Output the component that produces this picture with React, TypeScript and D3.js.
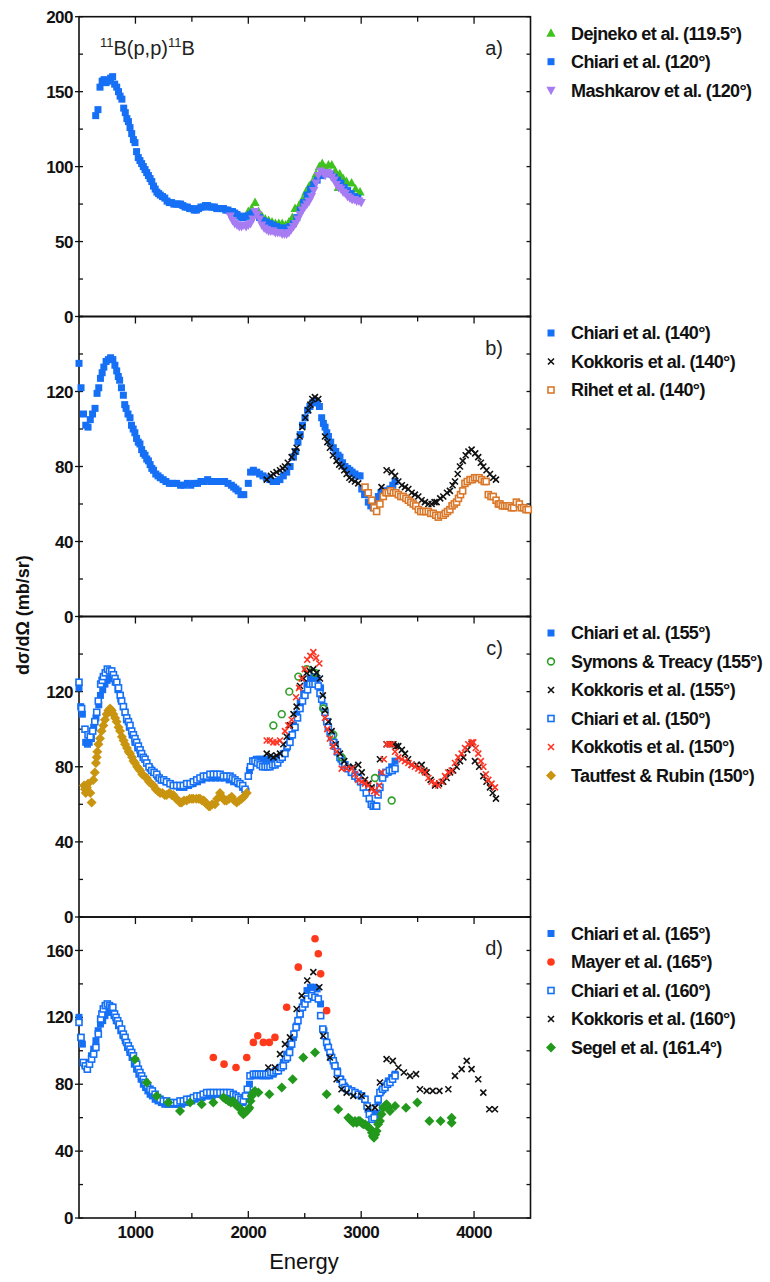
import React from 'react';
import * as d3 from 'd3';

// energy (keV) / cross section (mb/sr) pairs

// panel a
const dejneko1195: [number, number][] = [[2000,70],[2030,72],[2060,76],[2090,70],[2120,67],[2150,65],[2180,64],[2210,63],[2240,62],[2270,62],[2300,62],[2330,61],[2360,63],[2390,66],[2414,72],[2450,74],[2480,78],[2510,83],[2540,87],[2570,90],[2600,95],[2630,100],[2655,102],[2680,99],[2710,101],[2740,101],[2770,97],[2797,86],[2810,95],[2840,92],[2870,90],[2915,89],[2950,85],[2990,83]];
const chiari120: [number, number][] = [[648,134],[668,138],[686,153],[705,157],[722,158],[740,156],[760,157],[780,159],[798,160],[816,155],[834,153],[850,150],[864,147],[880,145],[896,139],[910,136],[924,132],[938,130],[952,126],[967,122],[982,118],[996,116],[1010,110],[1025,106],[1040,104],[1055,102],[1070,100],[1085,98],[1100,96],[1115,94],[1130,92],[1145,90],[1160,87],[1175,85],[1190,83],[1205,82],[1220,81],[1240,80],[1260,79],[1280,77],[1300,76],[1320,76],[1340,75],[1360,75],[1380,75],[1400,75],[1420,74],[1440,73],[1460,73],[1480,72],[1500,72],[1520,71],[1540,71],[1560,72],[1580,73],[1600,73],[1620,74],[1640,74],[1660,73],[1680,73],[1700,73],[1720,72],[1740,72],[1760,72],[1780,72],[1800,71],[1820,71],[1840,70],[1860,70],[1880,69],[1900,68],[1920,67],[1940,66],[1960,66],[1980,67],[2000,67],[2020,68],[2040,69],[2060,70],[2080,68],[2100,66],[2130,64],[2160,63],[2190,62],[2220,61],[2250,60],[2280,59],[2310,59],[2340,59],[2370,60],[2400,62],[2430,66],[2460,71],[2490,76],[2520,81],[2550,85],[2580,88],[2610,91],[2640,94],[2670,96],[2700,96],[2730,95],[2760,93],[2790,91],[2820,89],[2850,86],[2880,84],[2910,82],[2940,80],[2970,79]];
const mashkarov120: [number, number][] = [[1840,67],[1860,64],[1880,62],[1900,61],[1920,60],[1940,60],[1960,61],[1980,60],[2000,61],[2020,62],[2040,65],[2060,70],[2080,68],[2100,65],[2120,61],[2140,59],[2160,58],[2180,57],[2200,57],[2220,57],[2240,56],[2260,56],[2280,56],[2300,55],[2320,55],[2340,55],[2360,56],[2380,58],[2400,60],[2420,62],[2440,65],[2460,68],[2480,71],[2500,73],[2520,75],[2540,77],[2560,80],[2580,84],[2600,89],[2620,94],[2640,97],[2660,96],[2680,94],[2700,96],[2720,95],[2740,93],[2760,91],[2780,88],[2800,86],[2820,85],[2840,83],[2860,82],[2880,80],[2900,79],[2920,78],[2940,78],[2960,77],[2980,77],[3000,76]];

// panel b
const chiari140: [number, number][] = [[500,135],[518,122],[540,108],[560,102],[580,101],[600,105],[620,108],[642,111],[660,119],[675,122],[690,127],[705,130],[720,133],[740,136],[760,137],[780,138],[800,137],[818,134],[834,131],[848,128],[860,126],[876,122],[893,118],[905,113],[917,111],[934,108],[952,106],[965,102],[980,100],[995,98],[1010,95],[1025,93],[1040,92],[1055,89],[1070,87],[1085,86],[1100,84],[1115,83],[1130,81],[1145,79],[1160,78],[1180,76],[1200,75],[1220,74],[1245,73],[1270,72],[1300,71],[1330,71],[1365,71],[1400,70],[1430,70],[1460,71],[1490,70],[1520,71],[1550,71],[1580,72],[1610,72],[1640,73],[1670,72],[1700,72],[1730,72],[1760,72],[1790,72],[1820,71],[1850,70],[1870,69],[1890,68],[1910,67],[1935,65],[1960,65],[2000,71],[2020,77],[2045,78],[2075,77],[2100,76],[2130,75],[2160,74],[2190,73],[2220,72],[2250,72],[2280,73],[2310,75],[2340,77],[2370,80],[2400,85],[2420,88],[2440,93],[2460,97],[2480,102],[2502,106],[2525,110],[2546,112],[2570,114],[2591,115],[2610,114],[2630,112],[2650,106],[2665,103],[2680,101],[2695,98],[2710,96],[2730,93],[2753,90],[2775,88],[2795,86],[2812,85],[2835,82],[2856,80],[2880,79],[2900,78],[2920,77],[2945,76],[2970,75],[2990,75],[3005,68],[3030,65],[3063,61],[3085,59],[3107,58],[3130,62],[3152,64],[3175,66],[3197,67],[3225,67],[3255,68],[3280,70],[3300,72]];
const kokkoris140: [number, number][] = [[2163,73],[2200,75],[2222,76],[2250,77],[2281,78],[2305,79],[2325,80],[2350,82],[2384,85],[2410,88],[2428,90],[2455,96],[2478,101],[2505,106],[2531,110],[2550,113],[2567,116],[2590,117],[2620,116],[2679,96],[2700,93],[2723,90],[2750,86],[2782,83],[2805,81],[2826,80],[2850,78],[2871,76],[2895,74],[2915,73],[2945,72],[2974,71],[3180,69],[3225,78],[3270,77],[3300,75],[3329,72],[3360,70],[3388,69],[3418,68],[3447,66],[3476,65],[3506,64],[3535,62],[3565,61],[3595,60],[3624,60],[3650,61],[3668,61],[3700,63],[3727,64],[3760,66],[3786,67],[3810,70],[3831,72],[3855,76],[3875,80],[3900,83],[3926,86],[3950,88],[3978,89],[4010,87],[4037,85],[4060,82],[4082,80],[4110,78],[4141,76],[4170,74],[4194,73]];
const rihet140: [number, number][] = [[3034,69],[3063,66],[3093,62],[3115,58],[3137,56],[3166,60],[3196,64],[3220,66],[3240,66],[3262,67],[3285,66],[3307,66],[3329,65],[3351,64],[3373,64],[3396,63],[3418,62],[3440,61],[3462,60],[3484,59],[3506,57],[3528,56],[3550,56],[3572,56],[3595,56],[3617,55],[3639,55],[3661,54],[3683,53],[3705,54],[3727,54],[3745,55],[3765,56],[3786,57],[3805,59],[3825,60],[3845,61],[3862,63],[3880,65],[3899,67],[3919,71],[3940,72],[3964,73],[3985,73],[4005,74],[4023,74],[4045,74],[4067,73],[4090,72],[4107,72],[4126,65],[4150,64],[4170,64],[4195,62],[4215,60],[4230,60],[4250,59],[4270,59],[4290,59],[4310,59],[4330,58],[4350,58],[4375,61],[4401,60],[4420,58],[4440,58],[4460,57],[4480,57]];

// panel c
const chiari155: [number, number][] = [[500,122],[515,112],[530,108],[559,93],[575,92],[590,93],[610,95],[630,101],[650,106],[675,113],[690,118],[710,121],[730,124],[750,126],[775,127],[800,128],[820,125],[845,121],[870,116],[895,112],[920,105],[945,101],[970,97],[995,93],[1020,90],[1045,87],[1070,85],[1100,82],[1130,79],[1160,77],[1195,75],[1230,73],[1270,72],[1310,71],[1350,70],[1390,69],[1430,69],[1470,70],[1510,71],[1550,72],[1590,73],[1630,74],[1670,74],[1710,74],[1750,74],[1790,74],[1830,73],[1870,72],[1910,71],[1950,69],[1980,67],[2010,78],[2040,83],[2070,84],[2100,84],[2130,84],[2160,84],[2190,84],[2220,84],[2250,84],[2280,85],[2310,87],[2340,90],[2370,96],[2400,102],[2430,108],[2460,114],[2490,119],[2520,124],[2550,127],[2580,128],[2610,127],[2640,122],[2670,112],[2700,104],[2730,98],[2760,93],[2790,88],[2820,84],[2850,81],[2880,79],[2910,77],[2940,76],[2970,74],[3000,72],[3180,76],[3210,76],[3240,77],[3270,80],[3300,83]];
const symons155: [number, number][] = [[2222,102],[2296,108],[2363,120],[2443,128],[2517,132],[2591,130],[2664,111],[2753,97],[2827,85],[3122,74],[3270,62]];
const kokkoris155: [number, number][] = [[2163,87],[2200,86],[2222,85],[2250,86],[2281,87],[2310,92],[2340,96],[2369,102],[2400,108],[2428,112],[2458,123],[2490,127],[2517,130],[2545,131],[2576,132],[2605,130],[2635,127],[2660,118],[2679,110],[2710,104],[2738,99],[2775,92],[2812,87],[2850,83],[2886,80],[2930,80],[2974,81],[3005,77],[3034,73],[3065,71],[3093,69],[3166,84],[3225,92],[3255,92],[3285,92],[3310,91],[3329,91],[3360,89],[3388,87],[3415,84],[3447,81],[3490,81],[3536,81],[3560,78],[3580,77],[3615,73],[3654,70],[3690,71],[3727,72],[3757,74],[3787,77],[3815,78],[3846,80],[3875,83],[3905,85],[3940,89],[3978,92],[4008,83],[4045,80],[4082,75],[4110,72],[4141,69],[4165,66],[4194,63]];
const chiari150: [number, number][] = [[500,125],[523,111],[553,100],[580,97],[600,96],[621,99],[640,104],[657,109],[671,115],[692,124],[705,126],[716,128],[733,130],[751,132],[770,131],[790,131],[805,129],[819,127],[835,125],[850,122],[865,118],[878,115],[893,112],[908,109],[923,106],[938,104],[952,102],[967,99],[982,97],[996,95],[1011,93],[1026,91],[1041,89],[1055,87],[1070,85],[1085,84],[1100,82],[1120,80],[1144,78],[1165,77],[1188,76],[1210,74],[1230,73],[1250,73],[1275,72],[1306,71],[1335,70],[1365,70],[1395,70],[1424,70],[1454,71],[1484,71],[1513,72],[1543,73],[1572,74],[1602,75],[1630,75],[1660,76],[1690,76],[1720,76],[1750,76],[1779,75],[1808,75],[1838,75],[1860,74],[1882,73],[1905,72],[1926,71],[1950,70],[1971,68],[2000,75],[2019,80],[2040,83],[2059,83],[2082,82],[2104,81],[2126,80],[2148,80],[2170,80],[2192,80],[2215,81],[2237,81],[2260,82],[2281,84],[2300,85],[2325,87],[2345,91],[2369,93],[2390,97],[2414,101],[2436,106],[2458,111],[2480,115],[2502,118],[2525,121],[2546,124],[2570,124],[2591,124],[2620,123],[2635,119],[2650,116],[2665,112],[2679,109],[2695,104],[2709,101],[2725,98],[2738,96],[2753,93],[2768,91],[2790,88],[2812,85],[2835,83],[2856,81],[2885,79],[2916,77],[2945,75],[2974,74],[2995,72],[3019,69],[3045,66],[3072,63],[3090,60],[3107,59],[3125,59],[3137,59],[3150,65],[3166,69],[3190,74],[3219,77],[3250,78],[3275,78],[3300,79]];
const kokkotis150: [number, number][] = [[2163,94],[2192,94],[2222,93],[2250,93],[2281,94],[2325,99],[2355,102],[2384,105],[2423,117],[2450,122],[2473,127],[2500,132],[2522,137],[2550,139],[2576,141],[2600,138],[2629,135],[2679,106],[2700,100],[2723,95],[2750,91],[2782,88],[2827,79],[2871,79],[2916,79],[2945,76],[2974,73],[3005,72],[3034,71],[3063,70],[3093,68],[3115,67],[3137,66],[3160,70],[3181,77],[3200,84],[3225,92],[3250,92],[3270,92],[3300,88],[3329,85],[3360,84],[3388,83],[3418,82],[3447,81],[3476,80],[3506,79],[3535,78],[3565,77],[3595,74],[3624,72],[3654,71],[3683,70],[3713,72],[3743,75],[3772,77],[3802,78],[3831,82],[3860,85],[3890,87],[3920,90],[3949,92],[3978,93],[3993,93],[4015,90],[4037,87],[4060,83],[4082,80],[4104,76],[4126,73],[4155,71],[4185,69]];
const tautfest150: [number, number][] = [[545,70],[553,68],[560,66],[570,69],[580,71],[600,66],[612,61],[627,73],[640,77],[650,82],[657,85],[662,88],[672,92],[686,95],[700,99],[716,102],[730,105],[745,108],[760,110],[775,111],[790,110],[804,108],[820,106],[834,104],[850,101],[864,99],[880,96],[895,94],[908,92],[925,90],[940,88],[952,87],[970,85],[983,83],[996,82],[1015,80],[1030,79],[1041,78],[1060,76],[1080,75],[1100,74],[1120,72],[1140,71],[1159,70],[1180,68],[1200,67],[1218,66],[1240,66],[1260,65],[1277,65],[1300,66],[1320,65],[1336,65],[1360,63],[1380,62],[1395,61],[1410,61],[1430,62],[1454,62],[1480,63],[1500,63],[1513,63],[1540,63],[1560,63],[1572,63],[1590,62],[1605,62],[1617,61],[1635,60],[1650,59],[1660,59],[1680,60],[1705,60],[1725,63],[1749,66],[1765,64],[1790,62],[1808,62],[1830,63],[1853,64],[1875,62],[1897,61],[1920,62],[1941,63],[1960,64],[1986,66]];

// panel d
const chiari165: [number, number][] = [[500,120],[515,108],[530,104],[550,92],[570,90],[590,93],[610,97],[630,101],[650,106],[670,112],[690,116],[710,118],[730,121],[750,123],[770,124],[790,123],[810,121],[830,118],[850,115],[870,112],[890,109],[910,106],[930,102],[950,99],[970,96],[990,92],[1010,89],[1030,86],[1050,83],[1070,80],[1090,78],[1110,76],[1130,74],[1150,73],[1175,71],[1200,70],[1230,69],[1260,68],[1290,68],[1320,68],[1350,68],[1380,68],[1410,68],[1440,69],[1470,70],[1500,70],[1530,71],[1560,72],[1590,72],[1620,73],[1650,73],[1680,73],[1710,74],[1740,74],[1770,74],[1800,74],[1830,74],[1860,73],[1890,72],[1920,71],[1950,69],[1980,72],[2010,80],[2040,85],[2070,86],[2100,85],[2130,85],[2160,85],[2190,85],[2220,86],[2250,88],[2280,90],[2310,93],[2340,98],[2370,103],[2400,108],[2430,115],[2460,122],[2490,129],[2520,136],[2550,138],[2580,138],[2610,137],[2640,128],[2670,112],[2700,103],[2730,97],[2760,92],[2790,88],[2820,83],[2850,79],[2880,77],[2910,76],[2940,75],[2970,74],[3000,73],[3030,71],[3060,65],[3090,61],[3110,60],[3130,62],[3150,70],[3180,76],[3210,79],[3240,82],[3270,84],[3300,86]];
const mayer165: [number, number][] = [[1690,96],[1785,92],[1891,90],[1986,96],[2045,105],[2083,109],[2133,105],[2186,105],[2236,108],[2340,126],[2443,150],[2591,167],[2620,158],[2641,146],[2694,124]];
const chiari160: [number, number][] = [[500,117],[518,108],[538,93],[556,91],[574,89],[593,92],[612,95],[630,98],[650,102],[671,110],[692,119],[703,122],[715,125],[733,127],[751,128],[770,127],[785,126],[800,126],[815,122],[828,120],[843,118],[857,116],[878,113],[893,110],[908,108],[922,105],[937,103],[952,101],[967,99],[982,97],[996,94],[1011,92],[1026,89],[1040,87],[1055,85],[1070,83],[1085,81],[1108,79],[1129,77],[1150,76],[1174,74],[1196,72],[1218,71],[1247,70],[1277,70],[1306,69],[1336,69],[1365,69],[1395,70],[1424,70],[1454,71],[1484,71],[1513,72],[1543,73],[1572,73],[1600,74],[1631,75],[1660,75],[1690,75],[1720,75],[1749,75],[1779,75],[1808,75],[1838,75],[1867,74],[1890,73],[1911,72],[1935,71],[1956,70],[1975,73],[1991,77],[2015,85],[2045,86],[2067,86],[2089,86],[2111,86],[2133,86],[2155,86],[2178,86],[2200,87],[2222,87],[2245,88],[2266,88],[2290,90],[2310,91],[2330,95],[2346,96],[2366,99],[2384,104],[2404,110],[2423,114],[2440,118],[2458,122],[2480,126],[2502,128],[2525,131],[2561,133],[2590,132],[2620,131],[2641,121],[2660,113],[2679,109],[2694,105],[2709,102],[2723,99],[2738,96],[2753,94],[2768,91],[2790,87],[2812,83],[2834,81],[2856,78],[2885,77],[2916,76],[2945,75],[2974,74],[3004,73],[3034,71],[3052,67],[3072,62],[3095,59],[3115,60],[3137,66],[3150,71],[3166,75],[3190,77],[3211,78],[3233,80],[3255,81],[3278,83],[3300,85]];
const kokkoris160: [number, number][] = [[2177,90],[2236,90],[2281,98],[2325,104],[2369,108],[2428,125],[2473,133],[2522,142],[2576,147],[2629,138],[2664,109],[2723,96],[2782,83],[2826,77],[2871,75],[2930,73],[3004,73],[3063,66],[3122,66],[3166,81],[3225,95],[3280,94],[3329,90],[3378,87],[3432,85],[3486,86],[3521,77],[3580,76],[3634,76],[3693,76],[3772,77],[3831,85],[3890,89],[3935,94],[3978,89],[4037,83],[4082,75],[4135,65],[4185,65]];
const segel1614: [number, number][] = [[996,95],[1100,81],[1188,73],[1291,69],[1395,64],[1484,69],[1587,68],[1690,69],[1779,72],[1800,71],[1823,70],[1845,69],[1867,70],[1885,68],[1903,67],[1918,66],[1933,65],[1945,63],[1956,62],[1970,63],[1986,64],[2000,65],[2009,66],[2020,70],[2030,73],[2045,75],[2059,76],[2089,75],[2186,74],[2296,78],[2393,83],[2487,96],[2591,99],[2694,74],[2797,65],[2886,60],[2900,59],[2916,58],[2930,57],[2945,58],[2960,57],[2975,58],[2989,58],[3004,57],[3019,56],[3035,56],[3054,55],[3070,54],[3084,53],[3095,51],[3103,49],[3113,48],[3125,50],[3137,52],[3150,56],[3166,58],[3180,62],[3196,66],[3210,67],[3225,68],[3240,66],[3255,64],[3300,67],[3397,66],[3497,69],[3604,58],[3703,58],[3801,57],[3801,60]];

const xMajorTicks = [1000, 2000, 3000, 4000];
const xMinorTicks = [1500, 2500, 3500];

const BLUE = '#1670f5';
const FONT = '"Liberation Sans", Arial, sans-serif';

type Shape = 'sq' | 'osq' | 'tri' | 'tridown' | 'x' | 'ocirc' | 'circ' | 'dia';
type Series = { name: string; data: [number, number][]; shape: Shape; color: string; legendOrder: number };

const panels: {
  label: string; top: number; bottom: number; yMax: number; yLabels: number[]; yStep: number; series: Series[];
}[] = [
  { label: 'a)', top: 16.7, bottom: 316.5, yMax: 200, yLabels: [0, 50, 100, 150, 200], yStep: 25, series: [
    { name: 'Dejneko et al. (119.5°)', data: dejneko1195, shape: 'tri', color: '#3fc21e', legendOrder: 0 },
    { name: 'Chiari et al. (120°)', data: chiari120, shape: 'sq', color: BLUE, legendOrder: 1 },
    { name: 'Mashkarov et al. (120°)', data: mashkarov120, shape: 'tridown', color: '#a77cf2', legendOrder: 2 },
  ] },
  { label: 'b)', top: 316.5, bottom: 616.5, yMax: 160, yLabels: [0, 40, 80, 120], yStep: 20, series: [
    { name: 'Chiari et al. (140°)', data: chiari140, shape: 'sq', color: BLUE, legendOrder: 0 },
    { name: 'Kokkoris et al. (140°)', data: kokkoris140, shape: 'x', color: '#111', legendOrder: 1 },
    { name: 'Rihet et al. (140°)', data: rihet140, shape: 'osq', color: '#d9782a', legendOrder: 2 },
  ] },
  { label: 'c)', top: 616.5, bottom: 917, yMax: 160, yLabels: [0, 40, 80, 120], yStep: 20, series: [
    { name: 'Chiari et al. (155°)', data: chiari155, shape: 'sq', color: BLUE, legendOrder: 0 },
    { name: 'Chiari et al. (150°)', data: chiari150, shape: 'osq', color: BLUE, legendOrder: 3 },
    { name: 'Tautfest & Rubin (150°)', data: tautfest150, shape: 'dia', color: '#c99510', legendOrder: 5 },
    { name: 'Symons & Treacy (155°)', data: symons155, shape: 'ocirc', color: '#2f9e2a', legendOrder: 1 },
    { name: 'Kokkoris et al. (155°)', data: kokkoris155, shape: 'x', color: '#111', legendOrder: 2 },
    { name: 'Kokkotis et al. (150°)', data: kokkotis150, shape: 'x', color: '#ff3322', legendOrder: 4 },
  ] },
  { label: 'd)', top: 917, bottom: 1218, yMax: 180, yLabels: [0, 40, 80, 120, 160], yStep: 20, series: [
    { name: 'Chiari et al. (165°)', data: chiari165, shape: 'sq', color: BLUE, legendOrder: 0 },
    { name: 'Chiari et al. (160°)', data: chiari160, shape: 'osq', color: BLUE, legendOrder: 2 },
    { name: 'Segel et al. (161.4°)', data: segel1614, shape: 'dia', color: '#22991c', legendOrder: 4 },
    { name: 'Kokkoris et al. (160°)', data: kokkoris160, shape: 'x', color: '#111', legendOrder: 3 },
    { name: 'Mayer et al. (165°)', data: mayer165, shape: 'circ', color: '#ff3a1c', legendOrder: 1 },
  ] },
];

const LEFT = 79;
const RIGHT = 530.5;

function Marker({ shape, x, y, color }: { shape: Shape; x: number; y: number; color: string }) {
  switch (shape) {
    case 'sq':
      return <rect x={x - 3.5} y={y - 3.5} width={7} height={7} fill={color} />;
    case 'osq':
      return <rect x={x - 3} y={y - 3} width={6} height={6} fill="white" stroke={color} strokeWidth={1.6} />;
    case 'tri':
      return <path d={`M${x},${y - 5}L${x + 4.6},${y + 3.5}L${x - 4.6},${y + 3.5}Z`} fill={color} />;
    case 'tridown':
      return <path d={`M${x},${y + 5}L${x + 4.6},${y - 3.5}L${x - 4.6},${y - 3.5}Z`} fill={color} />;
    case 'x':
      return <path d={`M${x - 3},${y - 3}L${x + 3},${y + 3}M${x - 3},${y + 3}L${x + 3},${y - 3}`} stroke={color} strokeWidth={1.6} />;
    case 'ocirc':
      return <circle cx={x} cy={y} r={3.4} fill="none" stroke={color} strokeWidth={1.6} />;
    case 'circ':
      return <circle cx={x} cy={y} r={3.8} fill={color} />;
    case 'dia':
      return <path d={`M${x},${y - 5}L${x + 5},${y}L${x},${y + 5}L${x - 5},${y}Z`} fill={color} />;
  }
}

export default function App() {
  const x = d3.scaleLinear().domain([500, 4500]).range([LEFT, RIGHT]);

  return (
    <svg width={770} height={1282} style={{ position: 'absolute', left: 0, top: 0, background: 'white' }} fontFamily={FONT}>
      {panels.map((p, pi) => {
        const y = d3.scaleLinear().domain([0, p.yMax]).range([p.bottom, p.top]);
        const yTicks = d3.range(0, p.yMax + 0.001, p.yStep);
        const legend = [...p.series].sort((a, b) => a.legendOrder - b.legendOrder);
        return (
          <g key={p.label}>
            <rect x={LEFT} y={p.top} width={RIGHT - LEFT} height={p.bottom - p.top} fill="none" stroke="#111" strokeWidth={1.6} />
            {/* top ticks, pointing in */}
            {xMajorTicks.map(t => (
              <line key={'M' + t} x1={x(t)} x2={x(t)} y1={p.top} y2={p.top + 7} stroke="#111" strokeWidth={1.3} />
            ))}
            {xMinorTicks.map(t => (
              <line key={'m' + t} x1={x(t)} x2={x(t)} y1={p.top} y2={p.top + 5} stroke="#111" strokeWidth={1.3} />
            ))}
            {pi === panels.length - 1 && xMajorTicks.concat(xMinorTicks).map(t => (
              <line key={'b' + t} x1={x(t)} x2={x(t)} y1={p.bottom} y2={p.bottom - (xMajorTicks.includes(t) ? 7 : 5)} stroke="#111" strokeWidth={1.3} />
            ))}
            {yTicks.map(t => {
              const major = p.yLabels.includes(t);
              return (
                <g key={'y' + t}>
                  <line x1={major ? LEFT - 4 : LEFT} x2={LEFT + 4} y1={y(t)} y2={y(t)} stroke="#111" strokeWidth={1.3} />
                  <line x1={RIGHT - 4} x2={RIGHT} y1={y(t)} y2={y(t)} stroke="#111" strokeWidth={1.3} />
                </g>
              );
            })}
            {p.yLabels.map(t => (
              <text key={'yl' + t} x={73} y={y(t)} dy="0.36em" textAnchor="end" fontSize={17} fontWeight="bold" fill="#111" letterSpacing={-0.5}>{t}</text>
            ))}
            <text x={503} y={p.top + 38} textAnchor="end" fontSize={20} fill="#222">{p.label}</text>
            {p.series.map(s => (
              <g key={s.name}>
                {s.data.map(([e, v], i) => (
                  <Marker key={i} shape={s.shape} x={x(e)} y={y(v)} color={s.color} />
                ))}
              </g>
            ))}
            {legend.map((s, i) => {
              const ly = p.top + 16.5 + i * 28.5;
              return (
                <g key={'lg' + s.name}>
                  <Marker shape={s.shape} x={551} y={ly} color={s.color} />
                  <text x={571} y={ly} dy="0.36em" fontSize={18} fontWeight="bold" fill="#111" letterSpacing={-0.6}>{s.name}</text>
                </g>
              );
            })}
          </g>
        );
      })}

      <text x={100} y={55} fontSize={20} fill="#222">
        <tspan fontSize={13} dy={-8}>11</tspan>
        <tspan dy={8}>B(p,p)</tspan>
        <tspan fontSize={13} dy={-8}>11</tspan>
        <tspan dy={8}>B</tspan>
      </text>

      {xMajorTicks.map(t => (
        <text key={'xl' + t} x={x(t)} y={1238} textAnchor="middle" fontSize={17} fontWeight="bold" fill="#111" letterSpacing={-0.5}>{t}</text>
      ))}
      <text x={304} y={1269} textAnchor="middle" fontSize={22} fill="#111">Energy</text>
      <text transform="translate(29,615) rotate(-90)" textAnchor="middle" fontSize={18} fontWeight="bold" fill="#111">dσ/dΩ (mb/sr)</text>
    </svg>
  );
}
